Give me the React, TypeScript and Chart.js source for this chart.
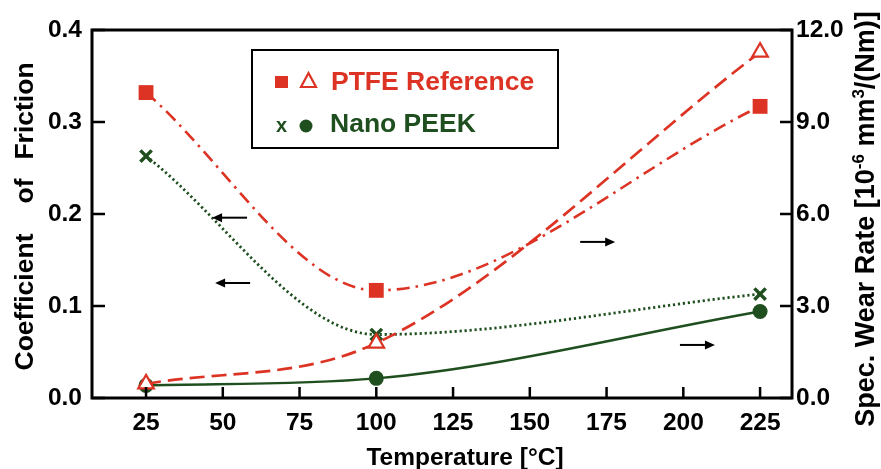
import React, { useEffect, useRef } from "react";
import { Chart, registerables } from "chart.js";
Chart.register(...registerables);

const temperatures = [25, 100, 225];
const ptfeFriction = [0.332, 0.117, 0.317];
const ptfeWear = [0.46, 1.79, 11.28];
const peekFriction = [0.263, 0.069, 0.113];
const peekWear = [0.41, 0.64, 2.82];

const xTickValues = [25, 50, 75, 100, 125, 150, 175, 200, 225];
const leftTickValues = [0, 0.1, 0.2, 0.3, 0.4];
const rightTickValues = [0, 3, 6, 9, 12];

const legendLabels = ["PTFE Reference", "Nano PEEK"];
const xTitle = "Temperature [°C]";
const leftTitleWords = ["Coefficient", "of", "Friction"];
const rightTitleParts = [
  { text: "Spec. Wear Rate [10", sup: false },
  { text: "-6", sup: true },
  { text: " mm", sup: false },
  { text: "3", sup: true },
  { text: "/(Nm)]", sup: false },
];

// arrows pointing to the axis each curve belongs to (data coordinates)
const arrowTails = [57.9, 58.9, 166.4, 198.9];
const arrowHeads = [46.5, 47.5, 177.8, 210.3];
const arrowLevels = [0.196, 0.125, 5.09, 1.73];
const arrowAxes = ["y", "y", "y1", "y1"];

const RED = "#dc3324";
const GREEN = "#1f4f1f";
const FONT = "'Liberation Sans', Arial, Helvetica, sans-serif";

const pts = (ys: number[]) => temperatures.map((x, i) => ({ x, y: ys[i] }));

const overlay = {
  id: "overlay",
  afterDraw(chart: any) {
    const { ctx, chartArea, scales } = chart;
    const { left, right, top, bottom } = chartArea;
    ctx.save();
    // frame
    ctx.strokeStyle = "#000";
    ctx.lineWidth = 3;
    ctx.strokeRect(left, top, right - left, bottom - top);
    // inward ticks
    ctx.lineWidth = 2.5;
    ctx.beginPath();
    xTickValues.forEach((v) => {
      const px = scales.x.getPixelForValue(v);
      ctx.moveTo(px, bottom);
      ctx.lineTo(px, bottom - 11);
    });
    leftTickValues.forEach((v) => {
      const py = scales.y.getPixelForValue(v);
      ctx.moveTo(left, py);
      ctx.lineTo(left + 13, py);
    });
    rightTickValues.forEach((v) => {
      const py = scales.y1.getPixelForValue(v);
      ctx.moveTo(right, py);
      ctx.lineTo(right - 12, py);
    });
    ctx.stroke();

    // arrows
    ctx.fillStyle = "#000";
    ctx.lineWidth = 2;
    arrowTails.forEach((t, i) => {
      const x1 = scales.x.getPixelForValue(t);
      const x2 = scales.x.getPixelForValue(arrowHeads[i]);
      const y = scales[arrowAxes[i]].getPixelForValue(arrowLevels[i]);
      const dir = x2 > x1 ? 1 : -1;
      ctx.beginPath();
      ctx.moveTo(x1, y);
      ctx.lineTo(x2 - dir * 6, y);
      ctx.stroke();
      ctx.beginPath();
      ctx.moveTo(x2, y);
      ctx.lineTo(x2 - dir * 10, y - 4.5);
      ctx.lineTo(x2 - dir * 10, y + 4.5);
      ctx.closePath();
      ctx.fill();
    });

    // legend box
    ctx.lineWidth = 2;
    ctx.strokeStyle = "#000";
    ctx.fillStyle = "#fff";
    ctx.fillRect(252, 50, 306, 98);
    ctx.strokeRect(252, 50, 306, 98);
    // symbols
    ctx.fillStyle = RED;
    ctx.fillRect(275, 76, 13, 12);
    ctx.strokeStyle = RED;
    ctx.lineWidth = 2.2;
    ctx.beginPath();
    ctx.moveTo(308.5, 73);
    ctx.lineTo(316, 87);
    ctx.lineTo(301, 87);
    ctx.closePath();
    ctx.stroke();
    ctx.font = `bold 26.5px ${FONT}`;
    ctx.textBaseline = "alphabetic";
    ctx.textAlign = "left";
    ctx.fillText(legendLabels[0], 331, 90);
    ctx.fillStyle = GREEN;
    ctx.font = `bold 20px ${FONT}`;
    ctx.fillText("x", 276, 132);
    ctx.beginPath();
    ctx.arc(306, 126, 6.5, 0, Math.PI * 2);
    ctx.fill();
    ctx.font = `bold 26.5px ${FONT}`;
    ctx.fillText(legendLabels[1], 330, 132);

    // titles
    ctx.fillStyle = "#000";
    ctx.font = `bold 24.5px ${FONT}`;
    ctx.textAlign = "center";
    ctx.fillText(xTitle, 465, 465);

    // left title
    ctx.font = `bold 26.5px ${FONT}`;
    const wordCenters = [302, 191, 111];
    leftTitleWords.forEach((w, i) => {
      ctx.save();
      ctx.translate(33, wordCenters[i]);
      ctx.rotate(-Math.PI / 2);
      ctx.textAlign = "center";
      ctx.fillText(w, 0, 0);
      ctx.restore();
    });

    // right title
    ctx.save();
    ctx.translate(874, 219);
    ctx.rotate(-Math.PI / 2);
    ctx.textAlign = "left";
    const big = `bold 27px ${FONT}`;
    const small = `bold 17px ${FONT}`;
    let total = 0;
    rightTitleParts.forEach((p) => {
      ctx.font = p.sup ? small : big;
      total += ctx.measureText(p.text).width;
    });
    let cx = -total / 2;
    rightTitleParts.forEach((p) => {
      ctx.font = p.sup ? small : big;
      ctx.fillText(p.text, cx, p.sup ? -10 : 0);
      cx += ctx.measureText(p.text).width;
    });
    ctx.restore();

    ctx.restore();
  },
};

export default function App() {
  const ref = useRef<HTMLCanvasElement | null>(null);
  useEffect(() => {
    if (!ref.current) return;
    const tickFont = { family: FONT, size: 24.5, weight: "bold" as const };
    const chart = new Chart(ref.current, {
      type: "line",
      data: {
        datasets: [
          {
            label: "PTFE friction",
            data: pts(ptfeFriction),
            yAxisID: "y",
            borderColor: RED,
            backgroundColor: RED,
            borderWidth: 2.6,
            borderDash: [13, 6, 2.5, 6],
            cubicInterpolationMode: "monotone",
            pointStyle: "rect",
            pointRadius: 10.5,
            pointBorderWidth: 0,
          },
          {
            label: "PTFE wear",
            data: pts(ptfeWear),
            yAxisID: "y1",
            borderColor: RED,
            backgroundColor: "#fff",
            pointBorderColor: RED,
            borderWidth: 2.7,
            borderDash: [15, 7],
            cubicInterpolationMode: "monotone",
            pointStyle: "triangle",
            pointRadius: 9,
            pointBorderWidth: 2.2,
          },
          {
            label: "PEEK friction",
            data: pts(peekFriction),
            yAxisID: "y",
            borderColor: GREEN,
            backgroundColor: GREEN,
            borderWidth: 2.8,
            borderDash: [2.2, 2.8],
            cubicInterpolationMode: "monotone",
            pointStyle: "crossRot",
            pointRadius: 8,
            pointBorderWidth: 3.5,
          },
          {
            label: "PEEK wear",
            data: pts(peekWear),
            yAxisID: "y1",
            borderColor: GREEN,
            backgroundColor: GREEN,
            borderWidth: 2.4,
            cubicInterpolationMode: "monotone",
            pointStyle: "circle",
            pointRadius: 7.5,
            pointBorderWidth: 0,
          },
        ],
      },
      options: {
        animation: false,
        responsive: false,
        devicePixelRatio: 1,
        layout: { padding: { top: 30, left: 0, right: 0, bottom: 0 } },
        plugins: { legend: { display: false }, tooltip: { enabled: false } },
        scales: {
          x: {
            type: "linear",
            min: 7.4,
            max: 235.4,
            afterBuildTicks: (s: any) => {
              s.ticks = xTickValues.map((v) => ({ value: v }));
            },
            afterFit: (s: any) => {
              s.height = 71;
            },
            ticks: {
              font: tickFont,
              color: "#000",
              padding: 11,
              maxRotation: 0,
              autoSkip: false,
              callback: (v: any) => String(v),
            },
            grid: { display: false, drawTicks: false },
            border: { display: false },
          },
          y: {
            position: "left",
            min: 0,
            max: 0.4,
            afterBuildTicks: (s: any) => {
              s.ticks = leftTickValues.map((v) => ({ value: v }));
            },
            afterFit: (s: any) => {
              s.width = 92;
            },
            ticks: {
              font: tickFont,
              color: "#000",
              padding: 10,
              callback: (v: any) => Number(v).toFixed(1),
            },
            grid: { display: false, drawTicks: false },
            border: { display: false },
          },
          y1: {
            position: "right",
            min: 0,
            max: 12,
            afterBuildTicks: (s: any) => {
              s.ticks = rightTickValues.map((v) => ({ value: v }));
            },
            afterFit: (s: any) => {
              s.width = 89;
            },
            ticks: {
              font: tickFont,
              color: "#000",
              padding: 4,
              callback: (v: any) => Number(v).toFixed(1),
            },
            grid: { display: false, drawTicks: false },
            border: { display: false },
          },
        },
      },
      plugins: [overlay],
    } as any);
    return () => chart.destroy();
  }, []);
  return (
    <div style={{ position: "absolute", left: 0, top: 0, width: 881, height: 469, background: "#fff" }}>
      <canvas ref={ref} width={881} height={469} style={{ display: "block", width: 881, height: 469 }} />
    </div>
  );
}
